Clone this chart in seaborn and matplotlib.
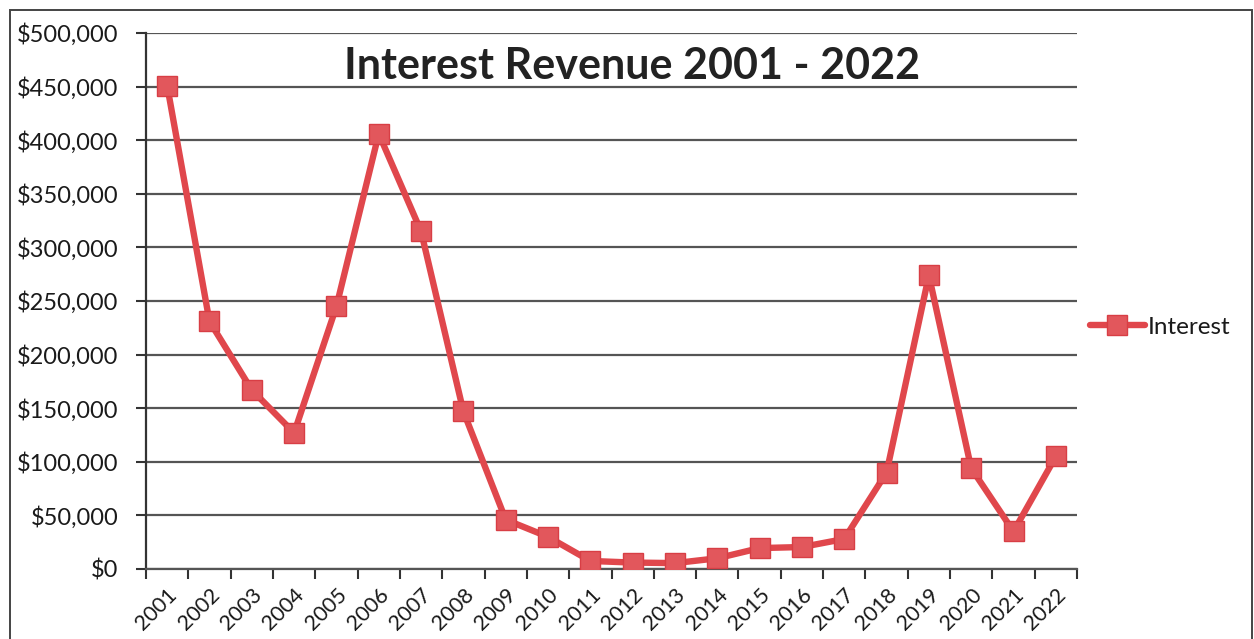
import numpy as np
import pandas as pd
import matplotlib
matplotlib.use("Agg")
import matplotlib.pyplot as plt
import seaborn as sns
from matplotlib.ticker import FuncFormatter, FixedLocator
from matplotlib.patches import Rectangle

years = [str(y) for y in range(2001, 2023)]
interest = [451000, 231000, 167000, 127000, 245000, 406000, 315000, 147000,
            46000, 30000, 7500, 6000, 5500, 10000, 19500, 20500, 28000,
            90000, 274000, 94000, 35000, 105000]
y_ticks = list(range(0, 500001, 50000))
title = "Interest Revenue 2001 - 2022"
series_name = "Interest"

df = pd.DataFrame({"Year": years, "Interest": interest})

sns.set_theme(style="white")
plt.rcParams["font.family"] = ["Lato", "DejaVu Sans"]

W, H = 1254, 639
fig = plt.figure(figsize=(W / 100, H / 100), dpi=100)
ax = fig.add_axes([146 / W, 1 - 569 / H, (1077 - 146) / W, (569 - 33) / H])

red = "#E0474C"
sns.pointplot(data=df, x="Year", y="Interest", ax=ax, color=red,
              markers="s", linestyles="-", label=series_name,
              linewidth=4.6, markersize=15, markeredgecolor="#D83E45",
              markerfacecolor="#E2575C", markeredgewidth=1.0, zorder=5)

ax.set_xlim(-0.5, len(years) - 0.5)
ax.set_ylim(0, 500000)
ax.yaxis.set_major_locator(FixedLocator(y_ticks))
ax.yaxis.set_major_formatter(FuncFormatter(lambda v, p: f"${int(v):,}"))
ax.grid(axis="y", color="#555555", linewidth=1.6, zorder=0)
ax.grid(axis="x", visible=False)
ax.set_axisbelow(True)

for s in ["top", "right"]:
    ax.spines[s].set_visible(False)
ax.spines["left"].set_color("#333333")
ax.spines["left"].set_linewidth(1.6)
ax.spines["bottom"].set_color("#555555")
ax.spines["bottom"].set_linewidth(1.6)

ax.tick_params(axis="y", which="major", left=True, length=7, width=1.5,
               color="#333333", labelsize=17, labelcolor="#1a1a1a", pad=13)
ax.set_xticks(np.arange(len(years)))
ax.set_xticklabels(years, rotation=45, ha="right", rotation_mode="anchor",
                   fontsize=15.5, color="#1a1a1a")
ax.tick_params(axis="x", which="major", length=0, pad=11)
ax.set_xticks(np.arange(-0.5, len(years)), minor=True)
ax.tick_params(axis="x", which="minor", bottom=True, length=7, width=1.5,
               color="#333333")
ax.set_xlabel("")
ax.set_ylabel("")

ax.text(0.5226, 0.975, title, transform=ax.transAxes, ha="center", va="top",
        fontsize=31, fontweight="bold", color="#222222")

leg = ax.legend(loc="center left", bbox_to_anchor=(1.003, 0.451),
                frameon=False, fontsize=17.5, handlelength=2.3,
                handletextpad=0.08, borderaxespad=0)
for t in leg.get_texts():
    t.set_color("#1a1a1a")

fig.patches.append(Rectangle((10 / W, -0.05), (1252 - 10) / W, 1.05 - 10 / H,
                             transform=fig.transFigure, fill=False,
                             edgecolor="#444444", linewidth=1.4))

fig.savefig("out.png", dpi=100)
